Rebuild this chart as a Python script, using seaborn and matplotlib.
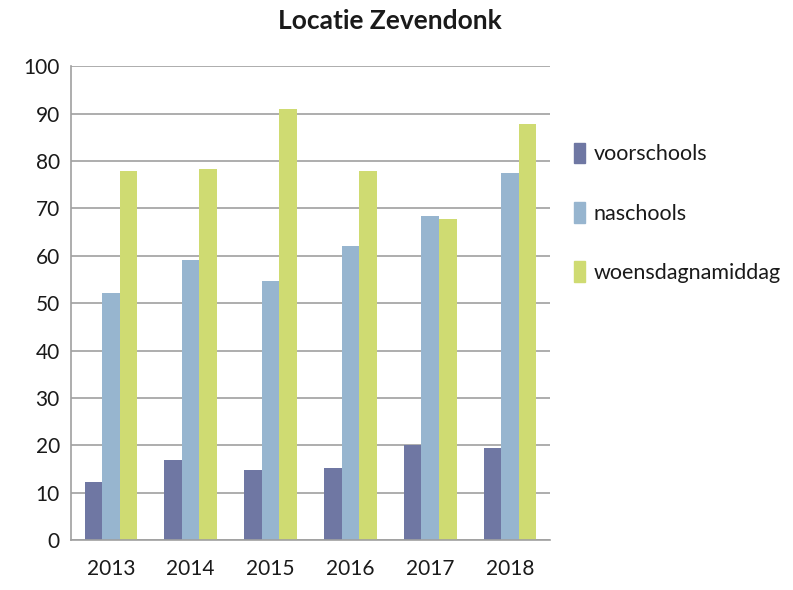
import numpy as np
import pandas as pd
import matplotlib
matplotlib.use("Agg")
import matplotlib.pyplot as plt
import seaborn as sns

years = ["2013", "2014", "2015", "2016", "2017", "2018"]
voorschools = [12.2, 16.9, 14.8, 15.1, 20.0, 19.4]
naschools = [52.2, 59.1, 54.6, 62.1, 68.4, 77.5]
woensdagnamiddag = [77.8, 78.4, 90.9, 77.8, 67.7, 87.9]
series_names = ["voorschools", "naschools", "woensdagnamiddag"]
colors = ["#6F77A3", "#97B5CF", "#CFDB72"]

df = pd.DataFrame({
    "jaar": years * 3,
    "waarde": voorschools + naschools + woensdagnamiddag,
    "reeks": [s for s in series_names for _ in years],
})

sns.set_style("white")
plt.rcParams["font.family"] = ["Lato", "DejaVu Sans"]
plt.rcParams["text.color"] = "#1a1a1a"

fig = plt.figure(figsize=(7.93, 5.90), dpi=100)
ax = fig.add_axes([0.0895, 0.0847, 0.604, 0.803])

sns.barplot(data=df, x="jaar", y="waarde", hue="reeks", palette=colors,
            width=0.66, gap=0, saturation=1, linewidth=0, ax=ax, legend=False)

ax.set_ylim(0, 100)
ax.set_yticks(np.arange(0, 101, 10))
ax.set_xlim(-0.5, 5.5)
ax.yaxis.grid(True, color="#A0A0A0", linewidth=1.2)
ax.set_axisbelow(True)
for side in ["top", "right"]:
    ax.spines[side].set_visible(False)
for side in ["left", "bottom"]:
    ax.spines[side].set_color("#A0A0A0")
    ax.spines[side].set_linewidth(1.2)
ax.tick_params(axis="y", length=5, color="#A0A0A0", labelsize=15, pad=3,
               labelcolor="#1a1a1a")
ax.tick_params(axis="x", length=0, labelsize=15, pad=14, labelcolor="#1a1a1a")
ax.set_xlabel("")
ax.set_ylabel("")

fig.suptitle("Locatie Zevendonk", x=0.492, y=0.985, fontsize=19, fontweight="bold")

handles = [plt.Rectangle((0, 0), 1, 1, color=c) for c in colors]
fig.legend(handles, series_names, loc="upper left", bbox_to_anchor=(0.724, 0.758),
           frameon=False, fontsize=15.5, handlelength=0.5, handleheight=1.1,
           handletextpad=0.4, labelspacing=1.75, borderpad=0, borderaxespad=0)

fig.savefig("out.png", dpi=100)
